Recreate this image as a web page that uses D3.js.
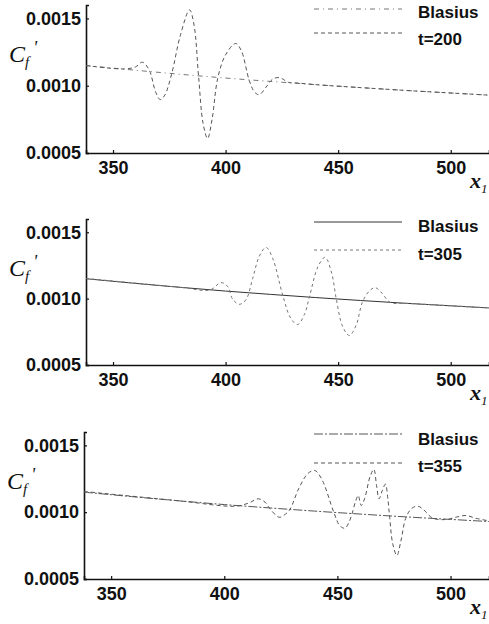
<!DOCTYPE html>
<html>
<head>
<meta charset="utf-8">
<script src="https://cdn.jsdelivr.net/npm/d3@7"></script>
<style>
  html, body { margin: 0; padding: 0; background: #fff; }
  svg { display: block; }
</style>
</head>
<body>
<svg id="chart" width="489" height="624"></svg>
<script>
// ---------------- data ----------------
const xTicks = [350, 400, 450, 500];
const yTicks = [0.0005, 0.0010, 0.0015];
const yTickLabels = ["0.0005", "0.0010", "0.0015"];

const blasiusX = [338, 360, 380, 400, 420, 440, 460, 480, 500, 517];
const blasiusY = [0.001150, 0.001115, 0.001085, 0.001057, 0.001032, 0.001008, 0.000986, 0.000965, 0.000946, 0.000930];

const t200X = [338, 355, 360, 363, 366, 369, 371, 373, 376, 380, 384, 386, 388, 390, 392, 394, 396.5, 400, 404.5, 407, 410.5, 413, 415, 418, 421, 424, 428, 432, 440, 460, 480, 500, 517];
const t200Y = [0.001150, 0.001125, 0.001140, 0.001175, 0.001120, 0.000950, 0.000897, 0.000930, 0.001085, 0.001380, 0.001564, 0.001450, 0.001070, 0.000720, 0.000608, 0.000750, 0.001055, 0.001230, 0.001314, 0.001260, 0.001040, 0.000950, 0.000934, 0.000990, 0.001050, 0.001060, 0.001025, 0.001020, 0.001008, 0.000986, 0.000965, 0.000946, 0.000930];

const t305X = [338, 380, 393, 398, 401, 403, 406, 409, 412, 415, 418, 421, 425.4, 429, 432, 435, 437.2, 441, 444.2, 447, 449.2, 452, 455, 458, 460.8, 464, 466.4, 469, 473.3, 480, 500, 517];
const t305Y = [0.001152, 0.001085, 0.001065, 0.001121, 0.001090, 0.001000, 0.000957, 0.000990, 0.001150, 0.001320, 0.001386, 0.001300, 0.001025, 0.000850, 0.000805, 0.000880, 0.001010, 0.001240, 0.001311, 0.001200, 0.000995, 0.000790, 0.000722, 0.000800, 0.000975, 0.001060, 0.001083, 0.001050, 0.000970, 0.000965, 0.000946, 0.000930];

const t355X = [338, 380, 405, 411, 415, 418, 420.2, 424.3, 427, 429, 433, 437, 440, 443, 448.5, 451, 453.3, 455, 456.5, 458, 459.2, 460.5, 462, 464.5, 466.1, 467.3, 468.4, 469.8, 471.2, 472.3, 473.1, 474.5, 476.3, 478, 480.4, 483, 485.6, 488, 492.2, 498, 503, 507, 511, 517];
const t355Y = [0.001155, 0.001085, 0.001045, 0.001070, 0.001100, 0.001075, 0.001025, 0.000962, 0.000985, 0.001020, 0.001180, 0.001290, 0.001312, 0.001250, 0.000995, 0.000900, 0.000880, 0.000920, 0.000990, 0.001080, 0.001125, 0.001050, 0.001100, 0.001270, 0.001320, 0.001200, 0.001100, 0.001160, 0.001210, 0.001100, 0.000960, 0.000760, 0.000676, 0.000780, 0.000965, 0.001030, 0.001045, 0.001020, 0.000955, 0.000945, 0.000965, 0.000975, 0.000955, 0.000935];

const seriesNames = ["Blasius", "t=200", "t=305", "t=355"];
const xDomain = [338, 517];
const yDomain = [0.0005, 0.0016];

// ---------------- layout ----------------
const panels = [
  { left: 86, top: 5,   bottom: 153, tX: t200X, tY: t200Y, name: seriesNames[1],
    bDash: "5,4,1,4", tDash: "4,3", bColor: "#777", tColor: "#555",
    legY1: 9, legY2: 33, txtY1: 18, txtY2: 45 },
  { left: 86, top: 219, bottom: 365, tX: t305X, tY: t305Y, name: seriesNames[2],
    bDash: null, tDash: "3,3", bColor: "#333", tColor: "#777",
    legY1: 222, legY2: 250, txtY1: 232, txtY2: 260 },
  { left: 84, top: 432, bottom: 579, tX: t355X, tY: t355Y, name: seriesNames[3],
    bDash: "9,2,2,2", tDash: "4,3", bColor: "#555", tColor: "#555",
    legY1: 434, legY2: 463, txtY1: 445, txtY2: 472 }
];
const right = 489;

const svg = d3.select("#chart");

panels.forEach(p => {
  const x = d3.scaleLinear().domain(xDomain).range([p.left, right]);
  const y = d3.scaleLinear().domain(yDomain).range([p.bottom, p.top]);
  const g = svg.append("g");

  // axes
  const xAxis = d3.axisBottom(x).tickValues(xTicks).tickSize(-3).tickPadding(7).tickFormat(d3.format("d"));
  const gx = g.append("g").attr("transform", `translate(0,${p.bottom})`).call(xAxis);
  gx.select(".domain").attr("stroke", "#111").attr("stroke-width", 1.6);
  gx.selectAll(".tick line").attr("stroke", "#111").attr("stroke-width", 1.2);
  gx.selectAll(".tick text").attr("font-family", "'Liberation Sans', Arial, sans-serif")
    .attr("font-weight", "bold").attr("font-size", 18).attr("fill", "#111").attr("dy", "0.78em");

  const yAxis = d3.axisLeft(y).tickValues(yTicks).tickSize(-3).tickPadding(5)
    .tickFormat((d, i) => yTickLabels[i]);
  const gy = g.append("g").attr("transform", `translate(${p.left},0)`).call(yAxis);
  gy.select(".domain").attr("stroke", "#111").attr("stroke-width", 1.6);
  gy.selectAll(".tick line").attr("stroke", "#111").attr("stroke-width", 1.2);
  gy.selectAll(".tick text").attr("font-family", "'Liberation Sans', Arial, sans-serif")
    .attr("font-weight", "bold").attr("font-size", 18).attr("fill", "#111");

  // lines
  const line = d3.line().x(d => x(d[0])).y(d => y(d[1])).curve(d3.curveCatmullRom.alpha(0.5));
  const bData = blasiusX.map((v, i) => [v, blasiusY[i]]);
  const tData = p.tX.map((v, i) => [v, p.tY[i]]);

  g.append("path").datum(bData).attr("d", line).attr("fill", "none")
    .attr("stroke", p.bColor).attr("stroke-width", 1)
    .attr("stroke-dasharray", p.bDash);
  g.append("path").datum(tData).attr("d", line).attr("fill", "none")
    .attr("stroke", p.tColor).attr("stroke-width", 1)
    .attr("stroke-dasharray", p.tDash);

  // legend
  const lx0 = 314, lx1 = 402, tx = 418;
  g.append("line").attr("x1", lx0).attr("x2", lx1).attr("y1", p.legY1).attr("y2", p.legY1)
    .attr("stroke", p.bColor).attr("stroke-width", 1).attr("stroke-dasharray", p.bDash);
  g.append("line").attr("x1", lx0).attr("x2", lx1).attr("y1", p.legY2).attr("y2", p.legY2)
    .attr("stroke", p.tColor).attr("stroke-width", 1).attr("stroke-dasharray", p.tDash);
  g.append("text").attr("x", tx).attr("y", p.txtY1).text(seriesNames[0])
    .attr("font-family", "'Liberation Sans', Arial, sans-serif").attr("font-weight", "bold")
    .attr("font-size", 17).attr("fill", "#111");
  g.append("text").attr("x", tx).attr("y", p.txtY2).text(p.name)
    .attr("font-family", "'Liberation Sans', Arial, sans-serif").attr("font-weight", "bold")
    .attr("font-size", 17).attr("fill", "#111");

  // y label C_f'
  const yl = g.append("text").attr("x", p.left - 77).attr("y", p.top + 57)
    .attr("font-family", "'Liberation Serif', 'Times New Roman', serif")
    .attr("font-style", "italic").attr("font-size", 24).attr("fill", "#111");
  yl.append("tspan").text("C");
  yl.append("tspan").text("f").attr("font-size", 15).attr("dy", 5).attr("dx", 0);
  yl.append("tspan").text("'").attr("font-size", 18).attr("dy", -13).attr("dx", 4);

  // x label x_1
  const xl = g.append("text").attr("x", 470).attr("y", p.bottom + 35)
    .attr("font-family", "'Liberation Serif', 'Times New Roman', serif")
    .attr("font-style", "italic").attr("font-weight", "bold").attr("font-size", 22).attr("fill", "#111");
  xl.append("tspan").text("x");
  xl.append("tspan").text("1").attr("font-size", 13).attr("dy", 5).attr("font-weight", "normal");
});
</script>
</body>
</html>
